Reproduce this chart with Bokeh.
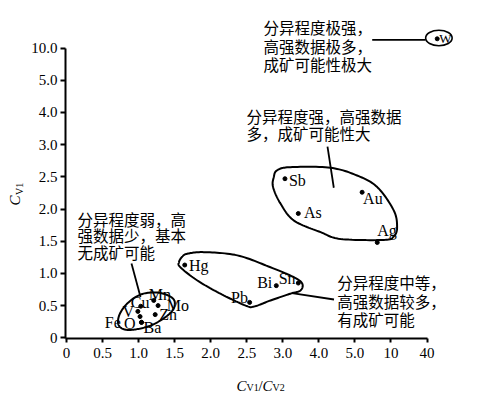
import numpy as np
from bokeh.plotting import figure
from bokeh.models import FixedTicker, Label, ColumnDataSource, Range1d
from bokeh.core.properties import value
from bokeh.embed import file_html
from bokeh.resources import INLINE

# ---------------- data ----------------
# broken (non-linear) axes: tick values placed at equal spacing
x_ticks = [0, 0.5, 1.0, 1.5, 2.0, 2.5, 3.0, 4.0, 5.0, 10, 40]
x_tick_labels = ["0", "0.5", "1.0", "1.5", "2.0", "2.5", "3.0", "4.0", "5.0", "10", "40"]
y_ticks = [0, 0.5, 1.0, 1.5, 2.0, 2.5, 3.0, 4.0, 5.0, 10.0]
y_tick_labels = ["0", "0.5", "1.0", "1.5", "2.0", "2.5", "3.0", "4.0", "5.0", "10.0"]

elements = ["W", "Sb", "Au", "As", "Ag", "Hg", "Bi", "Sn", "Pb",
            "Mn", "Cu", "Mo", "V", "Zn", "Fe", "O", "Ba"]
cv1_cv2 = [48.5, 3.06, 6.0, 3.43, 8.1, 1.64, 2.91, 3.43, 2.54,
           1.21, 1.03, 1.27, 0.99, 1.23, 1.02, 1.04, 1.04]
cv1 = [11.43, 2.47, 2.26, 1.93, 1.48, 1.13, 0.81, 0.85, 0.55,
       0.58, 0.49, 0.50, 0.41, 0.36, 0.33, 0.24, 0.24]

note_strong_max = ["分异程度极强，", "高强数据极多，", "成矿可能性极大"]
note_strong = ["分异程度强，高强数据", "多，成矿可能性大"]
note_weak = ["分异程度弱，高", "强数据少，基本", "无成矿可能"]
note_medium = ["分异程度中等，", "高强数据较多，", "有成矿可能"]

# ---------------- layout ----------------
FIG_W, FIG_H = 470, 396
PX_X, PX_Y = 36.05, 32.2          # pixels per axis step
ORG_X, ORG_Y = 66, 337.3          # pixel position of the (0, 0) tick
X0 = (0 - ORG_X) / PX_X
X1 = (FIG_W - ORG_X) / PX_X
Y0 = (ORG_Y - FIG_H) / PX_Y
Y1 = (ORG_Y - 0) / PX_Y
AX_X = (65 - ORG_X) / PX_X        # y-axis line location
AX_Y = (ORG_Y - 337.6) / PX_Y     # x-axis line location


def to_pos(v, ticks):
    v = np.asarray(v, float)
    t = np.asarray(ticks, float)
    idx = np.arange(len(t), dtype=float)
    pos = np.interp(v, t, idx)
    hi = v > t[-1]
    pos[hi] = idx[-1] + (v[hi] - t[-1]) / (t[-1] - t[-2])
    return pos


def smooth_closed(xs, ys, n=14):
    P = np.column_stack([xs, ys])
    m = len(P)
    out = []
    t = np.linspace(0, 1, n, endpoint=False)[:, None]
    for i in range(m):
        p0, p1, p2, p3 = P[(i - 1) % m], P[i], P[(i + 1) % m], P[(i + 2) % m]
        seg = 0.5 * ((2 * p1) + (-p0 + p2) * t + (2 * p0 - 5 * p1 + 4 * p2 - p3) * t ** 2
                     + (-p0 + 3 * p1 - 3 * p2 + p3) * t ** 3)
        out.append(seg)
    out = np.vstack(out + [P[:1]])
    return out[:, 0], out[:, 1]


p = figure(width=FIG_W, height=FIG_H, output_backend="svg", toolbar_location=None,
           x_range=Range1d(X0, X1), y_range=Range1d(Y0, Y1),
           min_border=0, min_border_left=0, min_border_right=0,
           min_border_top=0, min_border_bottom=0)
p.outline_line_color = None
p.background_fill_color = "white"
p.border_fill_color = "white"
p.grid.visible = False

serif = "Liberation Serif"
for ax, lab, n in ((p.xaxis, x_tick_labels, len(x_ticks)), (p.yaxis, y_tick_labels, len(y_ticks))):
    ax.ticker = FixedTicker(ticks=list(range(n)))
    ax.major_label_overrides = {i: s for i, s in enumerate(lab)}
    ax.minor_tick_line_color = None
    ax.axis_line_width = 2
    ax.major_tick_line_width = 2
    ax.major_tick_in = 0
    ax.major_label_text_font = serif
    ax.major_label_text_font_size = "15px"
    ax.major_label_text_color = "black"
    ax.axis_line_color = "black"
    ax.major_tick_line_color = "black"
p.xaxis.major_tick_out = 4
p.yaxis.major_tick_out = 5
p.xaxis.major_label_standoff = 6
p.yaxis.major_label_standoff = 3
p.xaxis.fixed_location = AX_Y
p.yaxis.fixed_location = AX_X
p.xaxis.bounds = (AX_X, len(x_ticks) - 1)
p.yaxis.bounds = (AX_Y, len(y_ticks) - 1)

# ---------------- points ----------------
px = to_pos(cv1_cv2, x_ticks)
py = to_pos(cv1, y_ticks)
p.scatter(px, py, size=4, color="black")

# label offsets in screen px (dx right, dy down) and alignment
offsets = {
    "W": (2, 0, "left"), "Sb": (4, 1.4, "left"), "Au": (1, 6, "left"),
    "As": (5.6, -0.7, "left"), "Ag": (0, -11.7, "left"), "Hg": (4.3, 0.7, "left"),
    "Bi": (-4, -3.3, "right"), "Sn": (-2.7, -5, "right"), "Pb": (-1.7, -5, "right"),
    "Mn": (-5, -6, "left"), "Cu": (-10, -3.5, "left"), "Mo": (8.7, 0, "left"),
    "V": (-3.7, 0, "right"), "Zn": (4, 0, "left"), "Fe": (-19.3, 6, "right"),
    "O": (-6, 1.3, "right"), "Ba": (2, 5, "left"),
}
lx = [x + offsets[e][0] / PX_X for x, e in zip(px, elements)]
ly = [y - offsets[e][1] / PX_Y for y, e in zip(py, elements)]
la = [offsets[e][2] for e in elements]
fs = ["13px" if e == "W" else "16px" for e in elements]
src = ColumnDataSource(dict(x=lx, y=ly, t=elements, a=la, fs=fs))
p.text("x", "y", text="t", source=src, text_align="a", text_baseline="middle",
       text_font=value(serif), text_font_size="fs", text_color="black")

# ---------------- enclosing curves (axis-step coordinates) ----------------
sb_group = ([5.84, 6.21, 7.32, 8.06, 8.62, 9.08, 9.17, 9.08, 8.80, 7.60, 7.05, 6.31, 5.94, 5.73, 5.75],
            [5.20, 5.30, 5.28, 5.04, 4.68, 3.95, 3.43, 3.15, 3.04, 3.07, 3.28, 3.64, 4.16, 4.68, 4.99])
hg_group = ([3.35, 3.81, 4.74, 5.66, 6.31, 6.54, 6.49, 6.21, 5.66, 5.20, 4.97, 4.27, 3.63, 3.16, 3.12, 3.21],
            [2.61, 2.66, 2.56, 2.19, 1.88, 1.68, 1.47, 1.37, 1.16, 0.97, 1.00, 1.37, 1.78, 2.19, 2.35, 2.52])
low_group = ([2.05, 2.47, 2.83, 3.00, 2.94, 2.69, 2.33, 1.91, 1.61, 1.44, 1.47, 1.69],
             [1.34, 1.41, 1.31, 1.13, 0.85, 0.60, 0.38, 0.26, 0.26, 0.41, 0.72, 1.07])
for gx, gy in (sb_group, hg_group, low_group):
    sx, sy = smooth_closed(gx, gy)
    p.line(sx, sy, line_color="black", line_width=2)

p.ellipse(x=[10.33], y=[9.31], width=[26.5], height=[15.5], width_units="screen",
          height_units="screen", fill_alpha=0, line_color="black", line_width=1.6)

# leader lines
leaders = [((8.48, 9.96), (9.255, 9.255)),
           ((7.24, 7.415), (5.94, 4.66)),
           ((1.803, 2.053), (2.307, 1.267)),
           ((6.255, 7.42), (1.385, 1.189))]
for (xs, ys) in leaders:
    p.line(list(xs), list(ys), line_color="black", line_width=1.8)

# ---------------- notes ----------------
cjk = "Noto Sans CJK SC"
notes = [(note_strong_max, 5.465, [9.64, 9.07, 8.51]),
         (note_strong, 4.993, [6.888, 6.345]),
         (note_weak, 0.305, [3.683, 3.193, 2.680]),
         (note_medium, 7.509, [1.727, 1.152, 0.599])]
for lines, nx, nys in notes:
    p.text(x=[nx] * len(lines), y=nys, text=lines, text_align="left", text_baseline="middle",
           text_font=value(cjk), text_font_size="15.5px", text_color="black")


# ---------------- axis titles ----------------
def lab(sx, sy, t, size, italic=False, angle=0, baseline="alphabetic"):
    p.add_layout(Label(x=(sx - ORG_X) / PX_X, y=(ORG_Y - sy) / PX_Y, text=t,
                       text_font=serif, text_font_size=size,
                       text_font_style="italic" if italic else "normal", angle=angle,
                       text_align="left", text_baseline=baseline, text_color="black"))


# x title  C_V1 / C_V2
lab(236, 385, "C", "15px", italic=True)
lab(246, 386.5, "V1", "10px")
lab(258, 385, "/", "15px")
lab(262, 385, "C", "15px", italic=True)
lab(272, 386.5, "V2", "10px")
# y title  C_V1 (rotated)
lab(14.5, 205, "C", "15px", italic=True, angle=np.pi / 2, baseline="middle")
lab(18.5, 194.5, "V1", "10px", angle=np.pi / 2, baseline="middle")

open("out.html", "w").write(file_html(p, INLINE))
